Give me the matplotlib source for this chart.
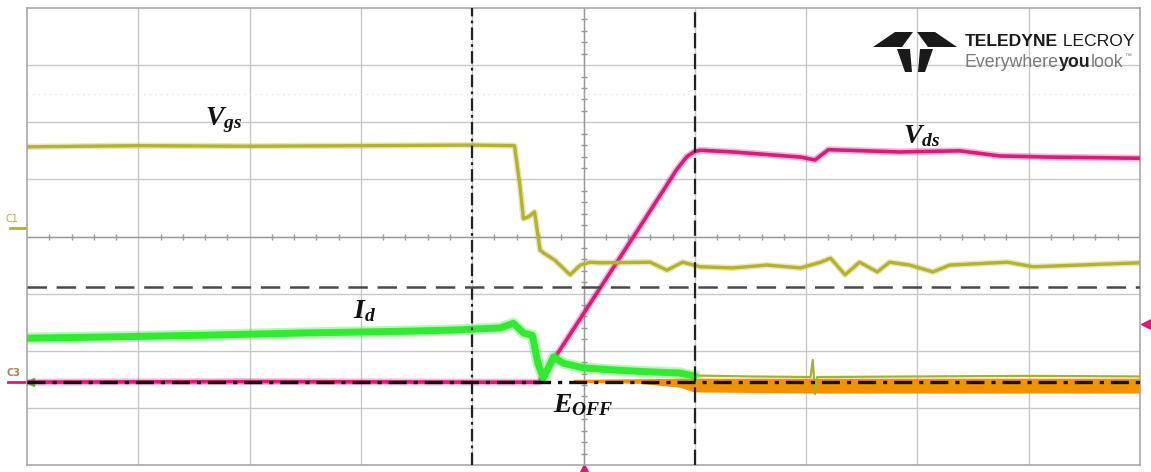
import numpy as np
import matplotlib.pyplot as plt
from matplotlib.patches import Polygon

plt.rcParams['mathtext.fontset'] = 'custom'
plt.rcParams['mathtext.it'] = 'Liberation Serif:italic:bold'
plt.rcParams['mathtext.rm'] = 'Liberation Serif:bold'
plt.rcParams['mathtext.bf'] = 'Liberation Serif:bold'
plt.rcParams['lines.scale_dashes'] = False

vgs_t = [0, 1.0, 2.0, 3.0, 4.0, 4.38, 4.43, 4.46, 4.51, 4.56, 4.61, 4.65, 4.74, 4.88, 4.97, 5.06,
         5.15, 5.60, 5.75, 5.89, 6.05, 6.34, 6.65, 6.95, 7.13, 7.22, 7.35, 7.48, 7.64, 7.75, 7.93,
         8.14, 8.29, 8.81, 9.04, 10.0]
vgs_v = [1.57, 1.59, 1.58, 1.59, 1.60, 1.59, 0.87, 0.31, 0.35, 0.43, -0.24, -0.30, -0.41, -0.67, -0.50, -0.45,
         -0.46, -0.45, -0.59, -0.45, -0.53, -0.55, -0.50, -0.55, -0.45, -0.38, -0.67, -0.45, -0.62, -0.45, -0.50,
         -0.62, -0.50, -0.45, -0.53, -0.46]

vds_t = [0, 2.0, 4.0, 4.60, 4.75, 5.15, 5.36, 5.49, 5.84, 5.93, 6.00, 6.05, 6.34, 6.95, 7.08, 7.20,
         7.84, 8.38, 8.74, 9.19, 10.0]
vds_v = [-2.55, -2.54, -2.55, -2.55, -2.10, -0.90, -0.27, 0.12, 1.18, 1.40, 1.49, 1.51, 1.48, 1.39, 1.34, 1.52,
         1.48, 1.50, 1.41, 1.39, 1.37]

id_t = [0, 0.66, 1.55, 2.45, 3.35, 3.80, 4.25, 4.37, 4.46, 4.54, 4.59, 4.64, 4.73, 4.82, 5.00, 5.30,
        5.60, 5.87, 5.99]
id_v = [-1.78, -1.76, -1.73, -1.69, -1.66, -1.64, -1.60, -1.52, -1.69, -1.73, -2.22, -2.48, -2.11, -2.22, -2.30, -2.34,
        -2.37, -2.39, -2.44]

tail_t = [5.87, 6.5, 7.04, 7.06, 7.08, 7.10, 8.0, 9.0, 10.0]
tail_v = [-2.43, -2.45, -2.46, -2.16, -2.76, -2.46, -2.45, -2.44, -2.45]

eoff_t = [4.91, 5.50, 5.87, 5.99, 7.0, 10.0]
eoff_lo = [-2.55, -2.57, -2.64, -2.72, -2.74, -2.74]
eoff_hi = [-2.50, -2.49, -2.48, -2.48, -2.48, -2.48]

cur_x1 = 4.0    # dash-dot cursor
cur_x2 = 6.0    # dashed cursor
cur_y1 = -0.88  # dashed cursor
cur_y2 = -2.55  # dash-dot cursor

c_vgs = '#b5b22c'
c_vds = '#d81b7c'
c_id = '#33ea33'
c_eoff = '#f39200'

fig = plt.figure(figsize=(11.51, 4.72), dpi=100)
ax = fig.add_axes([27/1151, 7/472, 1113/1151, 457/472])
ax.set_xlim(0, 10)
ax.set_ylim(-4, 4)
ax.set_xticks([])
ax.set_yticks([])
for s in ax.spines.values():
    s.set_color('#a8a8a8')
    s.set_linewidth(1.2)

# graticule
for i in range(1, 10):
    ax.axvline(i, color='#c8c8c8', lw=1.0, zorder=1)
for j in range(-3, 4):
    ax.axhline(j, color='#c8c8c8', lw=1.0, zorder=1)
ax.axhline(0, color='#9a9a9a', lw=1.0, zorder=1)
ax.axvline(5, color='#9a9a9a', lw=1.0, zorder=1)
mx = [x for x in np.arange(0.2, 10, 0.2) if abs(x - round(x)) > 0.05]
my = [y for y in np.arange(-3.8, 4, 0.2) if abs(y - round(y)) > 0.05]
ax.plot(mx, [0]*len(mx), ls='none', marker='|', ms=5, mew=1, color='#9a9a9a', zorder=1)
ax.plot([5]*len(my), my, ls='none', marker='_', ms=5, mew=1, color='#9a9a9a', zorder=1)
ax.axhline(2.5, color='#e4e4e4', lw=1.0, ls=(0, (1, 3)), zorder=1)

# traces (a soft wider stroke under each one stands in for the scope noise band)
ax.fill_between(eoff_t, eoff_lo, eoff_hi, color=c_eoff, lw=0, zorder=2)
ax.plot(vds_t, vds_v, color=c_vds, lw=5, alpha=0.3, zorder=3)
ax.plot(vds_t, vds_v, color=c_vds, lw=2.6, zorder=3)
ax.plot(tail_t, tail_v, color='#a6b22e', lw=1.6, zorder=3)
ax.plot(id_t, id_v, color=c_id, lw=8, alpha=0.35, zorder=4)
ax.plot(id_t, id_v, color=c_id, lw=5, zorder=4)
ax.plot(vgs_t, vgs_v, color=c_vgs, lw=4.5, alpha=0.3, zorder=4)
ax.plot(vgs_t, vgs_v, color=c_vgs, lw=2.4, zorder=4)

# cursors
ax.axvline(cur_x1, color='#222222', lw=1.6, dashes=(9, 3, 2, 3), zorder=5)
ax.axvline(cur_x2, color='#222222', lw=1.6, dashes=(11, 4), zorder=5)
ax.axhline(cur_y1, color='#4a4a4a', lw=1.8, dashes=(14, 7), zorder=5)
ax.axhline(cur_y2, color='#111111', lw=2.4, dashes=(13, 5, 3, 5), zorder=5)

# trace labels
ax.text(1.60, 1.95, r'$V_{gs}$', fontsize=20, color='#111111', zorder=6)
ax.text(7.87, 1.64, r'$V_{ds}$', fontsize=20, color='#111111', zorder=6)
ax.text(2.93, -1.43, r'$I_d$', fontsize=20, color='#111111', zorder=6)
ax.text(4.73, -3.07, r'$E_{OFF}$', fontsize=20, color='#111111', zorder=6)

# markers around the screen
ax.plot([10.06], [-1.53], marker='<', ms=8, color=c_vds, clip_on=False, ls='none')
ax.plot([5.0], [-4.08], marker='^', ms=8, color=c_vds, clip_on=False, ls='none')
ax.plot([-0.17, 0], [cur_y2, cur_y2], color=c_vds, lw=2, clip_on=False)
ax.plot([0.03], [cur_y2], marker='<', ms=6, color='#33cc33', clip_on=False, ls='none')

# overlay in pixel units for badges and logo
ov = fig.add_axes([0, 0, 1, 1], facecolor='none')
ov.set_xlim(0, 1151)
ov.set_ylim(472, 0)
ov.axis('off')
ov.text(6, 222, 'C1', fontsize=7, color=c_vgs)
ov.plot([10, 25], [228, 228], color=c_vgs, lw=2)
ov.text(7, 376, 'C3', fontsize=7, color='#a88450', weight='bold')

for pts in ([(873, 47), (895, 32), (913, 32), (902, 47)],
            [(957, 47), (935, 32), (917, 32), (928, 47)],
            [(897, 49), (910, 49), (912, 72), (905, 72)],
            [(920, 49), (933, 49), (925, 72), (918, 72)]):
    ov.add_patch(Polygon(pts, closed=True, color='#1a1a1a', lw=0))


def chain(parts, x, y, size):
    # put text pieces side by side, each starting where the last one ended
    r = fig.canvas.get_renderer()
    inv = ov.transData.inverted()
    for s, w, c in parts:
        t = ov.text(x, y, s, fontsize=size, weight=w, color=c, family='Liberation Sans')
        bb = t.get_window_extent(renderer=r)
        x = inv.transform((bb.x1, bb.y0))[0]
    return x


chain([('TELEDYNE', 'bold', '#1a1a1a'), (' LECROY', 'normal', '#1a1a1a')], 965, 46, 12.6)
end = chain([('Everywhere', 'normal', '#7a7a7a'), ('you', 'bold', '#222222'),
             ('look', 'normal', '#7a7a7a')], 965, 67, 12.8)
ov.text(end + 1, 58, '\u2122', fontsize=5, color='#7a7a7a', family='Liberation Sans')

fig.savefig('out.png', dpi=100)
